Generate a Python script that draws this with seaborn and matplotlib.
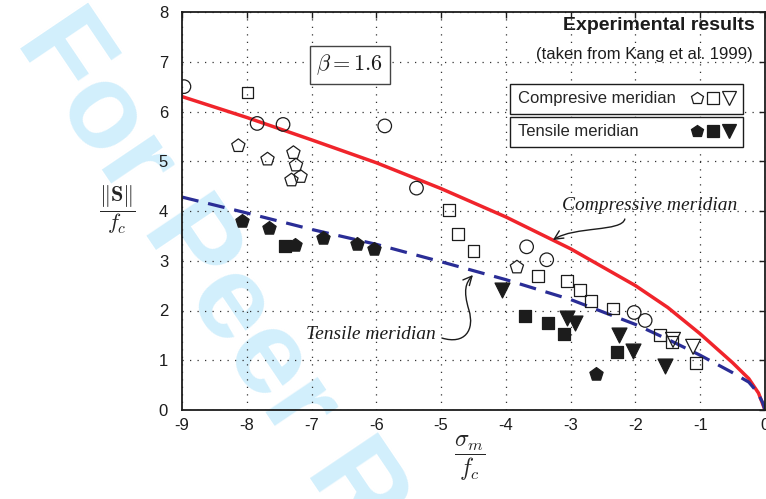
import numpy as np
import pandas as pd
import matplotlib
matplotlib.use("Agg")
import matplotlib.pyplot as plt
import seaborn as sns
from matplotlib.lines import Line2D
from matplotlib.legend_handler import HandlerTuple
from matplotlib.patches import FancyArrowPatch
from matplotlib.path import Path
from matplotlib.font_manager import FontProperties

# ---------------- data ----------------
comp_curve_x = [-9, -8, -7, -6, -5, -4, -3, -2, -1.5, -1, -0.5, -0.25, -0.1, 0]
comp_curve_y = [6.30, 5.88, 5.43, 4.97, 4.45, 3.88, 3.24, 2.50, 2.06, 1.53, 0.95, 0.63, 0.34, 0.0]
tens_curve_x = [-9, -8, -7, -6, -5, -4, -3, -2, -1.5, -1, -0.5, -0.25, -0.12, -0.04, 0]
tens_curve_y = [4.28, 3.96, 3.63, 3.33, 2.98, 2.62, 2.22, 1.72, 1.42, 1.10, 0.75, 0.56, 0.36, 0.16, 0.0]

comp_circle_x = [-8.97, -7.84, -7.44, -5.87, -5.38, -3.68, -3.37, -2.02, -1.85]
comp_circle_y = [6.50, 5.76, 5.74, 5.71, 4.46, 3.28, 3.02, 1.96, 1.80]
comp_square_x = [-7.99, -4.88, -4.74, -4.50, -3.51, -3.06, -2.85, -2.69, -2.35, -1.62, -1.44, -1.06]
comp_square_y = [6.38, 4.02, 3.53, 3.20, 2.70, 2.60, 2.41, 2.19, 2.04, 1.51, 1.37, 0.94]
comp_pent_x = [-8.13, -7.68, -7.28, -7.24, -7.17, -7.31, -3.83]
comp_pent_y = [5.31, 5.04, 5.17, 4.92, 4.69, 4.62, 2.87]
comp_tri_x = [-1.42, -1.11]
comp_tri_y = [1.41, 1.27]

tens_pent_x = [-8.08, -7.65, -7.25, -6.82, -6.30, -6.04, -2.61]
tens_pent_y = [3.79, 3.66, 3.32, 3.46, 3.33, 3.24, 0.72]
tens_square_x = [-7.41, -3.70, -3.35, -3.10, -2.29]
tens_square_y = [3.30, 1.88, 1.74, 1.53, 1.17]
tens_tri_x = [-4.06, -3.05, -2.94, -2.25, -2.04, -1.55]
tens_tri_y = [2.41, 1.84, 1.75, 1.51, 1.19, 0.89]

x_ticks = [-9, -8, -7, -6, -5, -4, -3, -2, -1, 0]
y_ticks = [0, 1, 2, 3, 4, 5, 6, 7, 8]

# ---------------- style ----------------
sns.set_theme(style="white")
plt.rcParams["font.family"] = ["Liberation Sans", "DejaVu Sans"]
plt.rcParams["mathtext.fontset"] = "cm"
plt.rcParams["axes.unicode_minus"] = False

W, H = 766, 499
L, R, T, B = 182, 765, 12, 410
fig = plt.figure(figsize=(W / 100, H / 100), dpi=100)
fig.patch.set_facecolor("white")
ax = fig.add_axes([L / W, 1 - B / H, (R - L) / W, (B - T) / H])
ax.set_facecolor("none")

# watermark
fig.text(40 / W, 1 - 24 / H, "For Peer Review", rotation=-56, rotation_mode="anchor",
         ha="left", va="center", fontsize=86, fontweight="bold", color="#d2effc",
         zorder=-5, family=["Liberation Sans", "DejaVu Sans"])

ink = "#1c1c1c"

# curves
sns.lineplot(x=comp_curve_x, y=comp_curve_y, ax=ax, color="#f0242b", linewidth=2.5,
             estimator=None, sort=False, zorder=2)
sns.lineplot(x=tens_curve_x, y=tens_curve_y, ax=ax, color="#2a2d96", linewidth=2.3,
             estimator=None, sort=False, zorder=2, linestyle=(0, (5.3, 3.1)))

def pts(x, y, marker, s, filled):
    fc = ink if filled else "none"
    sns.scatterplot(x=x, y=y, marker=marker, s=s, facecolor=fc, edgecolor=ink,
                    linewidth=0.9, ax=ax, zorder=4, legend=False)

pts(comp_circle_x, comp_circle_y, "o", 95, False)
pts(comp_square_x, comp_square_y, "s", 72, False)
pts(comp_pent_x, comp_pent_y, "p", 100, False)
pts(comp_tri_x, comp_tri_y, "v", 115, False)
pts(tens_pent_x, tens_pent_y, "p", 100, True)
pts(tens_square_x, tens_square_y, "s", 80, True)
pts(tens_tri_x, tens_tri_y, "v", 115, True)

# axes
ax.set_xlim(-9, 0)
ax.set_ylim(0, 8)
ax.set_xticks(x_ticks)
ax.set_yticks(y_ticks)
ax.set_xticklabels([str(v) for v in x_ticks])
ax.set_yticklabels([str(v) for v in y_ticks])
ax.tick_params(direction="in", length=4, width=1, top=True, right=True,
               labelsize=12, color=ink, labelcolor=ink)
ax.tick_params(axis="y", pad=10)
ax.tick_params(axis="x", pad=6)
ax.grid(True, color="#333333", linestyle=(0, (1, 5)), linewidth=0.9)
for s in ax.spines.values():
    s.set_visible(True)
    s.set_color(ink)
    s.set_linewidth(1.3)

ax.set_ylabel(r"$\dfrac{\Vert\mathbf{S}\Vert}{f_c}$", rotation=0, fontsize=16,
              ha="center", va="center")
ax.yaxis.set_label_coords((117 - L) / (R - L), (B - 210) / (B - T))
ax.set_xlabel(r"$\dfrac{\sigma_m}{f_c}$", fontsize=17, ha="center", va="center")
ax.xaxis.set_label_coords((470 - L) / (R - L), (B - 458) / (B - T))

# titles
ax.text((755 - L) / (R - L), (B - 26) / (B - T), "Experimental results", transform=ax.transAxes,
        ha="right", va="center", fontsize=14, fontweight="bold", color=ink)
ax.text((753 - L) / (R - L), (B - 55) / (B - T), "(taken from Kang et al. 1999)",
        transform=ax.transAxes, ha="right", va="center", fontsize=12, color=ink)

# beta box
ax.text(-6.41, 6.94, r"$\beta = 1.6$", ha="center", va="center", fontsize=16, color=ink,
        bbox=dict(boxstyle="square,pad=0.3", facecolor="white", edgecolor="#444444", linewidth=1.0),
        zorder=5)

# legends
def mk(marker, ms, filled):
    return Line2D([], [], marker=marker, linestyle="", markersize=ms, markeredgewidth=0.9,
                  markeredgecolor=ink, markerfacecolor=ink if filled else "none")

h_comp = (mk("p", 9, False), mk("s", 8, False), mk("v", 10, False))
h_tens = (mk("p", 9, True), mk("s", 8, True), mk("v", 10, True))
lab_comp = "Compresive meridian"
lab_tens = "Tensile meridian"

fs = 12
renderer = fig.canvas.get_renderer()
fp = FontProperties(family=["Liberation Sans", "DejaVu Sans"], size=fs)
w1 = renderer.get_text_width_height_descent(lab_comp, fp, ismath=False)[0]
w2 = renderer.get_text_width_height_descent(lab_tens, fp, ismath=False)[0]
fs_px = fs * 100 / 72
pad1 = 0.9
pad2 = pad1 + (w1 - w2) / fs_px

common = dict(handler_map={tuple: HandlerTuple(ndivide=None, pad=0.2)}, loc="upper right",
              borderaxespad=0, markerfirst=False, handlelength=2.7, fontsize=fs,
              frameon=True, fancybox=False, edgecolor=ink, framealpha=1, borderpad=0.45)
leg1 = ax.legend([h_comp], [lab_comp], bbox_to_anchor=((743 - L) / (R - L), (B - 84) / (B - T)),
                 handletextpad=pad1, **common)
leg1.get_frame().set_linewidth(1.0)
leg1.set_zorder(6)
ax.add_artist(leg1)
leg2 = ax.legend([h_tens], [lab_tens], bbox_to_anchor=((743 - L) / (R - L), (B - 117) / (B - T)),
                 handletextpad=pad2, **common)
leg2.get_frame().set_linewidth(1.0)
leg2.set_zorder(6)

# annotations
ax.text(-1.78, 4.12, "Compressive meridian", ha="center", va="center", fontsize=14,
        style="italic", family=["Liberation Serif", "DejaVu Serif"], color=ink, zorder=5)
ax.text(-6.08, 1.51, "Tensile meridian", ha="center", va="center", fontsize=14,
        style="italic", family=["Liberation Serif", "DejaVu Serif"], color=ink, zorder=5)

arrow_c = Path([(-2.164, 3.839), (-2.210, 3.578), (-2.935, 3.698), (-3.275, 3.417)],
               [Path.MOVETO, Path.CURVE4, Path.CURVE4, Path.CURVE4])
arrow_t = Path([(-4.988, 1.447), (-4.633, 1.307), (-4.478, 1.608), (-4.571, 2.010),
                (-4.664, 2.412), (-4.617, 2.553), (-4.509, 2.714)],
               [Path.MOVETO, Path.CURVE4, Path.CURVE4, Path.CURVE4,
                Path.CURVE4, Path.CURVE4, Path.CURVE4])
for p in (arrow_c, arrow_t):
    ax.add_patch(FancyArrowPatch(path=p, arrowstyle="->,head_length=0.45,head_width=0.22",
                                 mutation_scale=14, lw=1.0, color=ink, zorder=5))

fig.savefig("out.png", dpi=100)
